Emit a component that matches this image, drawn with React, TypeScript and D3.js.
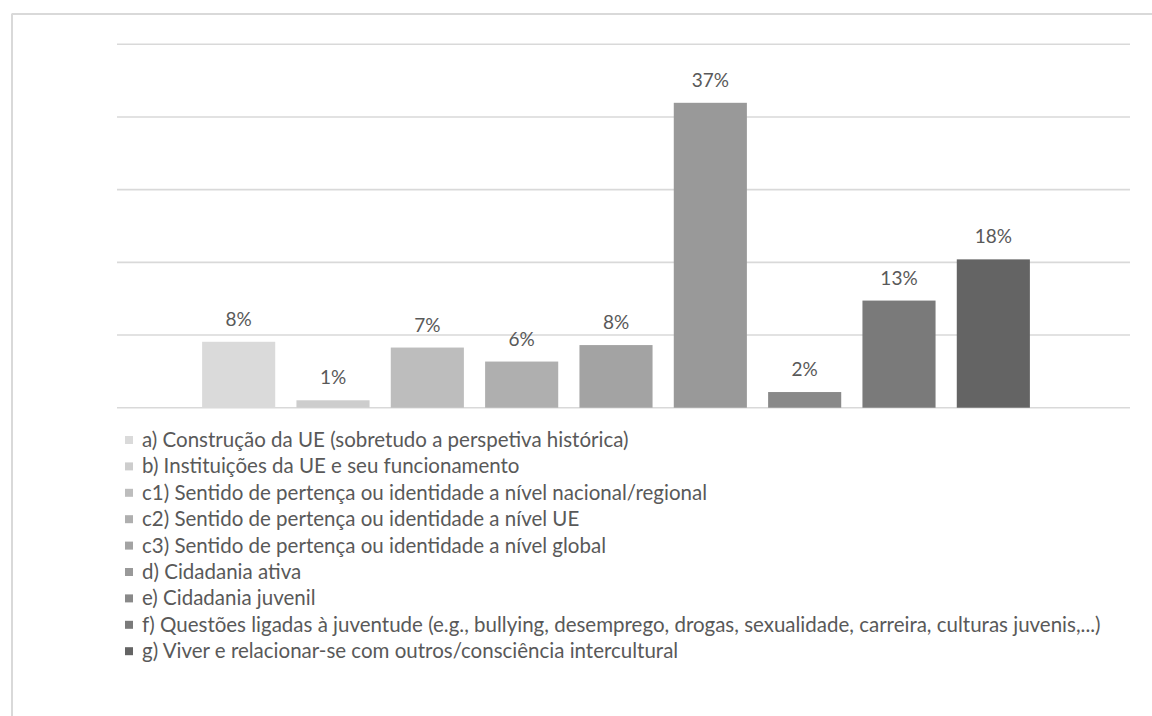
import React from "react";
import * as d3 from "d3";

const categories = [
  "a) Construção da UE (sobretudo a perspetiva histórica)",
  "b) Instituições da UE e seu funcionamento",
  "c1) Sentido de pertença ou identidade a nível nacional/regional",
  "c2) Sentido de pertença ou identidade a nível UE",
  "c3) Sentido de pertença ou identidade a nível global",
  "d) Cidadania ativa",
  "e) Cidadania juvenil",
  "f) Questões ligadas à juventude (e.g., bullying, desemprego, drogas, sexualidade, carreira, culturas juvenis,...)",
  "g) Viver e relacionar-se com outros/consciência intercultural",
];
const values = [8.0, 0.9, 7.3, 5.6, 7.6, 37.0, 1.9, 13.0, 18.0];
const valueLabels = ["8%", "1%", "7%", "6%", "8%", "37%", "2%", "13%", "18%"];
const colors = ["#dadada", "#cdcdcd", "#bdbdbd", "#afafaf", "#a3a3a3", "#999999", "#898989", "#7a7a7a", "#646464"];
const gridTicks = [0, 8.82, 17.64, 26.46, 35.28, 44.1];

const W = 1152;
const H = 716;
const FONT = "Lato, 'Open Sans', sans-serif";

export default function App() {
  const x = d3
    .scaleBand<number>()
    .domain(d3.range(categories.length))
    .range([191.5, 1040.5])
    .paddingInner(0.225)
    .paddingOuter(0.1125);
  const y = d3.scaleLinear().domain([0, 44.1]).range([407.7, 44.3]);

  const legendX = 125;
  const legendY0 = 440;
  const legendStep = 26.4;

  return (
    <svg
      width={W}
      height={H}
      style={{ position: "absolute", left: 0, top: 0, background: "#fff" }}
      fontFamily={FONT}
    >
      <rect x={0} y={0} width={W} height={H} fill="#fff" />
      {/* outer frame */}
      <line x1={11.5} y1={14} x2={W} y2={14} stroke="#d9d9d9" strokeWidth={2} />
      <line x1={12} y1={14} x2={12} y2={H} stroke="#d9d9d9" strokeWidth={2} />
      {/* gridlines */}
      {gridTicks.map((t, i) => (
        <line
          key={i}
          x1={117}
          x2={1130}
          y1={y(t)}
          y2={y(t)}
          stroke="#d9d9d9"
          strokeWidth={1.6}
        />
      ))}
      {/* bars */}
      {values.map((v, i) => (
        <rect
          key={i}
          x={x(i)}
          y={y(v)}
          width={x.bandwidth()}
          height={y(0) - y(v)}
          fill={colors[i]}
        />
      ))}
      {/* value labels */}
      {values.map((v, i) => (
        <text
          key={i}
          x={(x(i) as number) + x.bandwidth() / 2}
          y={y(v) - 16}
          textAnchor="middle"
          fontSize={19}
          fill="#595959"
        >
          {valueLabels[i]}
        </text>
      ))}
      {/* legend */}
      {categories.map((c, i) => (
        <g key={i} transform={`translate(${legendX},${legendY0 + i * legendStep})`}>
          <rect x={0} y={-4} width={8} height={8} fill={colors[i]} />
          <text x={17} y={7} fontSize={20.5} fill="#595959">
            {c}
          </text>
        </g>
      ))}
    </svg>
  );
}
